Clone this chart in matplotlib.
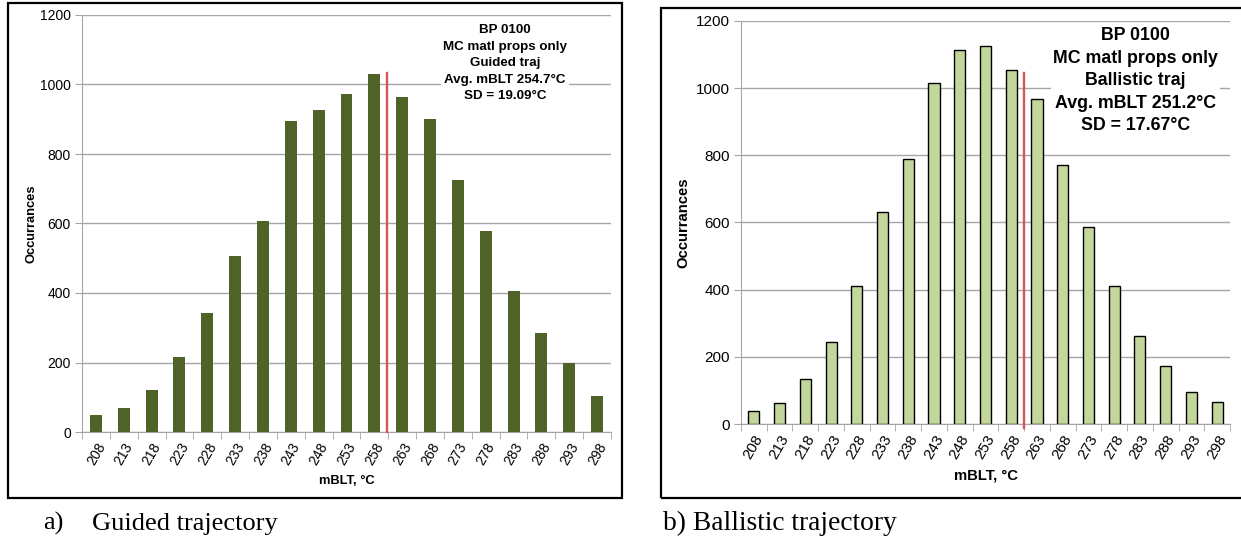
import numpy as np
import matplotlib
matplotlib.use("Agg")
import matplotlib.pyplot as plt
from matplotlib.patches import Rectangle

plt.rcParams["font.family"] = ["Liberation Sans", "DejaVu Sans"]

# bins (mBLT, deg C) and counts
bins = [208, 213, 218, 223, 228, 233, 238, 243, 248, 253,
        258, 263, 268, 273, 278, 283, 288, 293, 298]
guided = [48, 68, 120, 215, 343, 507, 608, 896, 927, 972,
          1030, 965, 902, 725, 578, 406, 285, 198, 104]
ballistic = [40, 63, 135, 243, 410, 632, 790, 1014, 1115, 1126,
             1053, 968, 772, 586, 412, 262, 174, 96, 66]

# red average marker: position in bin units and top value
guided_mark = (10.47, 1032)
ballistic_mark = (10.5, 1045)

guided_text = "BP 0100\nMC matl props only\nGuided traj\nAvg. mBLT 254.7°C\nSD = 19.09°C"
ballistic_text = "BP 0100\nMC matl props only\nBallistic traj\nAvg. mBLT 251.2°C\nSD = 17.67°C"

W, H = 1241, 538
fig = plt.figure(figsize=(W / 100, H / 100), dpi=100)


def fx(px):
    return px / W


def fy(py):
    return 1 - py / H


def draw(ax, counts, color, edge, mark, text, fs, ls, txt_xy, tick_fs, lbl_fs, ypad):
    x = np.arange(len(bins))
    ax.bar(x, counts, width=0.43, color=color, edgecolor=edge,
           linewidth=1.0 if edge != "none" else 0, zorder=3)
    ax.plot([mark[0], mark[0]], [0 if edge == "none" else -12, mark[1]],
            color="#d9545a", lw=1.7, zorder=4, clip_on=False)
    ax.set_xlim(-0.5, len(bins) - 0.5)
    ax.set_ylim(0, 1200)
    ax.set_yticks(range(0, 1201, 200))
    ax.yaxis.grid(True, color="#a6a6a6", lw=1.0, zorder=0)
    ax.set_xticks(x)
    ax.set_xticklabels([str(b) for b in bins], rotation=60, ha="right",
                       va="top", rotation_mode="anchor", fontsize=tick_fs)
    ax.set_xticks(np.arange(-0.5, len(bins), 1.0), minor=True)
    ax.tick_params(axis="x", which="major", length=0, pad=6)
    ax.tick_params(axis="x", which="minor", length=5, color="#a6a6a6")
    ax.tick_params(axis="y", length=5, color="#a6a6a6", labelsize=tick_fs, pad=3)
    for s in ["top", "right"]:
        ax.spines[s].set_visible(False)
    for s in ["left", "bottom"]:
        ax.spines[s].set_color("#a6a6a6")
    ax.set_ylabel("Occurrances", fontweight="bold", fontsize=lbl_fs, labelpad=ypad)
    ax.set_xlabel("mBLT, °C", fontweight="bold", fontsize=lbl_fs, labelpad=5)
    ax.text(txt_xy[0], txt_xy[1], text, transform=ax.transAxes, ha="center",
            va="center", fontsize=fs, fontweight="bold", linespacing=ls,
            zorder=5, bbox=dict(facecolor="white", edgecolor="none", pad=1.5))


ax1 = fig.add_axes([fx(82), fy(432), fx(611 - 82), (432 - 15) / H])
draw(ax1, guided, "#4f6228", "none", guided_mark, guided_text, 9.6, 1.5,
     (0.80, 0.884), 10, 9.3, 1.5)

ax2 = fig.add_axes([fx(741), fy(424), fx(1230 - 741), (424 - 21) / H])
draw(ax2, ballistic, "#c3d69b", "black", ballistic_mark, ballistic_text, 12.8, 1.42,
     (0.806, 0.852), 11, 10.7, 4)

# panel frames
fig.patches.append(Rectangle((fx(8), fy(498)), fx(622 - 8), (498 - 3) / H,
                             transform=fig.transFigure, fill=False,
                             edgecolor="black", lw=1.6))
fig.patches.append(Rectangle((fx(661), fy(498)), fx(1260 - 661), (498 - 8) / H,
                             transform=fig.transFigure, fill=False,
                             edgecolor="black", lw=1.6))

# captions
serif = ["Liberation Serif", "DejaVu Serif"]
fig.text(fx(43), fy(530), "a)", family=serif, fontsize=19, va="baseline")
fig.text(fx(92), fy(530), "Guided trajectory", family=serif, fontsize=19, va="baseline")
fig.text(fx(663), fy(530), "b) Ballistic trajectory", family=serif, fontsize=19.8,
         va="baseline")

fig.savefig("out.png", dpi=100)
